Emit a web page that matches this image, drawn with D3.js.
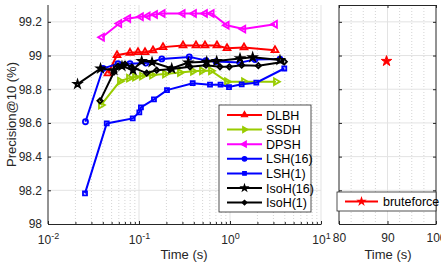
<!DOCTYPE html>
<meta charset="utf-8">
<style>
body { margin: 0; background: #fff; }
svg { font-family: "Liberation Sans", Arial, Helvetica, sans-serif; }
.grid line { stroke: #e3e3e3; stroke-width: 1px; }
.minor line { stroke: #d4d4d4; stroke-width: 1px; stroke-dasharray: 1 2; }
.axis path, .axis line { stroke: #262626; }
.axis text { fill: #262626; font-size: 11px; }
</style>
<body>
<script src="https://cdn.jsdelivr.net/npm/d3@7"></script>
<script>

// series: time (s) and precision@10 (%)
var dlbhT = [0.0456, 0.0573, 0.0796, 0.0975, 0.1164, 0.1425, 0.1835, 0.3045, 0.423, 0.531, 0.719, 0.927, 1.425, 3.12];
var dlbhP = [98.894, 99.002, 99.016, 99.02, 99.02, 99.03, 99.05, 99.06, 99.06, 99.06, 99.06, 99.044, 99.048, 99.032];

var ssdhT = [0.0382, 0.0618, 0.0776, 0.0904, 0.1079, 0.139, 0.193, 0.282, 0.392, 0.492, 0.618, 0.927, 1.425, 3.20];
var ssdhP = [98.706, 98.848, 98.866, 98.872, 98.878, 98.884, 98.89, 98.899, 98.907, 98.91, 98.91, 98.845, 98.845, 98.845];

var dpshT = [0.0392, 0.0607, 0.0762, 0.105, 0.1246, 0.150, 0.182, 0.302, 0.402, 0.531, 0.629, 0.920, 1.40, 3.12];
var dpshP = [99.109, 99.19, 99.22, 99.23, 99.235, 99.244, 99.25, 99.25, 99.25, 99.25, 99.25, 99.18, 99.157, 99.186];

var lsh16T = [0.0258, 0.0402, 0.0588, 0.0796, 0.119, 0.178, 0.357, 0.545, 0.702, 1.288, 1.88, 3.54];
var lsh16P = [98.607, 98.923, 98.952, 98.952, 98.955, 98.98, 98.992, 98.97, 98.964, 98.958, 98.976, 98.979];

var lsh1T = [0.0255, 0.0442, 0.0853, 0.1008, 0.105, 0.146, 0.203, 0.389, 0.603, 0.787, 0.975, 1.344, 1.945, 3.95];
var lsh1P = [98.182, 98.597, 98.627, 98.663, 98.692, 98.74, 98.795, 98.836, 98.827, 98.827, 98.813, 98.829, 98.839, 98.923];

var isoh16T = [0.0211, 0.0378, 0.0531, 0.0650, 0.0859, 0.107, 0.139, 0.229, 0.348, 0.555, 0.714, 1.288, 1.775, 3.54];
var isoh16P = [98.830, 98.923, 98.913, 98.937, 98.913, 98.967, 98.961, 98.923, 98.958, 98.963, 98.967, 98.983, 98.99, 98.973];

var isoh1T = [0.0373, 0.0531, 0.0588, 0.0702, 0.0832, 0.1216, 0.1565, 0.219, 0.363, 0.545, 0.776, 0.982, 1.344, 2.05, 3.95];
var isoh1P = [98.731, 98.902, 98.937, 98.949, 98.931, 98.896, 98.913, 98.918, 98.933, 98.943, 98.933, 98.933, 98.943, 98.94, 98.963];

var bruteT = [89.8];
var bruteP = [98.967];

var seriesNames = ["DLBH", "SSDH", "DPSH", "LSH(16)", "LSH(1)", "IsoH(16)", "IsoH(1)"];
var yTicks = [98, 98.2, 98.4, 98.6, 98.8, 99, 99.2];
var xTicksLog = [0.01, 0.1, 1, 10];
var xTicksLin = [80, 90, 100];
var xMinorLin = [82.5, 85, 87.5, 92.5, 95, 97.5];

var series = [
  {name: seriesNames[0], t: dlbhT, p: dlbhP, color: "#ff0000", sym: d3.symbolTriangle, rot: 0, size: 20},
  {name: seriesNames[1], t: ssdhT, p: ssdhP, color: "#99cc00", sym: d3.symbolTriangle, rot: 90, size: 20},
  {name: seriesNames[2], t: dpshT, p: dpshP, color: "#ff00ff", sym: d3.symbolTriangle, rot: -90, size: 20},
  {name: seriesNames[3], t: lsh16T, p: lsh16P, color: "#0000ff", sym: d3.symbolCircle, rot: 0, size: 20},
  {name: seriesNames[4], t: lsh1T, p: lsh1P, color: "#0000ff", sym: d3.symbolSquare, rot: 0, size: 16},
  {name: seriesNames[5], t: isoh16T, p: isoh16P, color: "#000000", sym: d3.symbolStar, rot: 0, size: 16},
  {name: seriesNames[6], t: isoh1T, p: isoh1P, color: "#000000", sym: d3.symbolSquare, rot: 45, size: 14}
];

var W = 441, H = 264;
var yTop = 5, yBot = 224;

var svg = d3.select("body").append("svg")
    .attr("width", W)
    .attr("height", H);

var x = d3.scaleLog().domain([0.01, 10]).range([48, 321]);
var x2 = d3.scaleLinear().domain([80, 100]).range([339, 436]);
var y = d3.scaleLinear().domain([98, 99.3]).range([yBot, yTop]);

// minor log values between decades
var xMinorLog = [];
[0.01, 0.1, 1].forEach(function(d) {
  for (var k = 2; k < 10; k++) xMinorLog.push(d * k);
});

// ---- left panel ----
var left = svg.append("g");

left.append("g").attr("class", "minor")
  .selectAll("line").data(xMinorLog).join("line")
    .attr("x1", x).attr("x2", x).attr("y1", yTop).attr("y2", yBot);

left.append("g").attr("class", "grid")
  .selectAll("line").data(xTicksLog.slice(1)).join("line")
    .attr("x1", x).attr("x2", x).attr("y1", yTop).attr("y2", yBot);

left.append("g").attr("class", "grid")
  .selectAll("line").data(yTicks.slice(1)).join("line")
    .attr("x1", 48).attr("x2", 321).attr("y1", y).attr("y2", y);

var line = d3.line().x(function(d) { return x(d[0]); }).y(function(d) { return y(d[1]); });

series.forEach(function(s) {
  var pts = s.t.map(function(t, i) { return [t, s.p[i]]; });
  var g = left.append("g");
  g.append("path")
    .attr("d", line(pts))
    .attr("fill", "none")
    .attr("stroke", s.color)
    .attr("stroke-width", 2);
  g.selectAll("path.m").data(pts).join("path")
    .attr("class", "m")
    .attr("d", d3.symbol().type(s.sym).size(s.size))
    .attr("transform", function(d) { return "translate(" + x(d[0]) + "," + y(d[1]) + ")rotate(" + s.rot + ")"; })
    .attr("fill", "none")
    .attr("stroke", s.color)
    .attr("stroke-width", 1.8);
});

// axes
var xAxis = left.append("g").attr("class", "axis")
    .attr("transform", "translate(0," + yBot + ")")
    .call(d3.axisBottom(x).tickValues(xTicksLog).tickSizeInner(-3).tickSizeOuter(0).tickFormat(""));
xAxis.append("g")
    .call(d3.axisBottom(x).tickValues(xMinorLog).tickSizeInner(-2).tickSizeOuter(0).tickFormat(""))
    .select(".domain").remove();
xAxis.selectAll(".tick line").attr("stroke", "#262626");
xAxis.selectAll(".tick").filter(function(d) { return xTicksLog.indexOf(d) >= 0; })
  .append("text")
    .attr("y", 20)
    .attr("fill", "#262626")
    .attr("text-anchor", "middle")
    .each(function(d) {
      var e = Math.round(Math.log10(d));
      var t = d3.select(this);
      t.append("tspan").text("10").style("font-size", "12px");
      t.append("tspan").text(e).attr("dy", -5).style("font-size", "9px");
    });

var yAxis = left.append("g").attr("class", "axis")
    .attr("transform", "translate(48,0)")
    .call(d3.axisLeft(y).tickValues(yTicks).tickSizeInner(-3).tickSizeOuter(0).tickPadding(6)
      .tickFormat(function(d) { return d3.format("~g")(d); }));
yAxis.selectAll("text").style("font-size", "12px");
yAxis.select(".domain").attr("d", "M0," + yTop + "V" + yBot);

left.append("text")
    .attr("transform", "translate(16," + ((yTop + yBot) / 2) + ")rotate(-90)")
    .attr("text-anchor", "middle")
    .attr("fill", "#262626")
    .style("font-size", "13px")
    .text("Precision@10 (%)");

left.append("text")
    .attr("x", 184).attr("y", 259)
    .attr("text-anchor", "middle")
    .attr("fill", "#262626")
    .style("font-size", "13px")
    .text("Time (s)");

// legend
var leg = left.append("g").attr("transform", "translate(219,105)");
leg.append("rect")
    .attr("width", 92).attr("height", 107)
    .attr("fill", "#fff").attr("stroke", "#262626").attr("stroke-width", 0.8);
series.forEach(function(s, i) {
  var ly = 10 + i * 14.6;
  leg.append("line")
    .attr("x1", 8).attr("x2", 43).attr("y1", ly).attr("y2", ly)
    .attr("stroke", s.color).attr("stroke-width", 2);
  leg.append("path")
    .attr("d", d3.symbol().type(s.sym).size(s.size * 0.8))
    .attr("transform", "translate(25.5," + ly + ")rotate(" + s.rot + ")")
    .attr("fill", s.color).attr("stroke", s.color).attr("stroke-width", 1.2);
  leg.append("text")
    .attr("x", 47).attr("y", ly + 4.5)
    .attr("fill", "#000")
    .style("font-size", "12.5px")
    .text(s.name);
});

// ---- right panel ----
var right = svg.append("g");

right.append("g").attr("class", "minor")
  .selectAll("line").data(xMinorLin).join("line")
    .attr("x1", x2).attr("x2", x2).attr("y1", yTop).attr("y2", yBot);
right.append("g").attr("class", "grid")
  .selectAll("line").data([90]).join("line")
    .attr("x1", x2).attr("x2", x2).attr("y1", yTop).attr("y2", yBot);
right.append("g").attr("class", "grid")
  .selectAll("line").data(yTicks.slice(1)).join("line")
    .attr("x1", 339).attr("x2", 436).attr("y1", y).attr("y2", y);

right.selectAll("path.bf").data(bruteT).join("path")
    .attr("class", "bf")
    .attr("d", d3.symbol().type(d3.symbolStar).size(34))
    .attr("transform", function(d, i) { return "translate(" + x2(d) + "," + y(bruteP[i]) + ")"; })
    .attr("fill", "#ff0000").attr("stroke", "#ff0000").attr("stroke-width", 1);

var x2Axis = right.append("g").attr("class", "axis")
    .attr("transform", "translate(0," + yBot + ")")
    .call(d3.axisBottom(x2).tickValues(xTicksLin).tickSizeInner(-3).tickSizeOuter(0).tickPadding(9));
x2Axis.selectAll("text").style("font-size", "12px");
right.append("g").attr("class", "axis")
    .attr("transform", "translate(0," + yTop + ")")
    .call(d3.axisTop(x2).tickValues(xTicksLin).tickSizeInner(-3).tickSizeOuter(0).tickFormat(""));
right.append("g").attr("class", "axis")
    .attr("transform", "translate(339,0)")
    .call(d3.axisLeft(y).tickValues(yTicks).tickSizeInner(-3).tickSizeOuter(0).tickFormat(""))
  .select(".domain").attr("d", "M0," + yTop + "V" + yBot);
right.append("g").attr("class", "axis")
    .attr("transform", "translate(436,0)")
    .call(d3.axisRight(y).tickValues(yTicks).tickSizeInner(-3).tickSizeOuter(0).tickFormat(""))
  .select(".domain").attr("d", "M0," + yTop + "V" + yBot);

right.append("text")
    .attr("x", 388).attr("y", 259)
    .attr("text-anchor", "middle")
    .attr("fill", "#262626")
    .style("font-size", "13px")
    .text("Time (s)");

var leg2 = right.append("g").attr("transform", "translate(337,192)");
leg2.append("rect")
    .attr("width", 99).attr("height", 19)
    .attr("fill", "#fff").attr("stroke", "#262626").attr("stroke-width", 0.8);
leg2.append("line")
    .attr("x1", 8).attr("x2", 41).attr("y1", 9.5).attr("y2", 9.5)
    .attr("stroke", "#ff0000").attr("stroke-width", 2);
leg2.append("path")
    .attr("d", d3.symbol().type(d3.symbolStar).size(34))
    .attr("transform", "translate(24.5,9.5)")
    .attr("fill", "#ff0000");
leg2.append("text")
    .attr("x", 46).attr("y", 14)
    .attr("fill", "#000")
    .style("font-size", "12.5px")
    .text("bruteforce");

</script>
